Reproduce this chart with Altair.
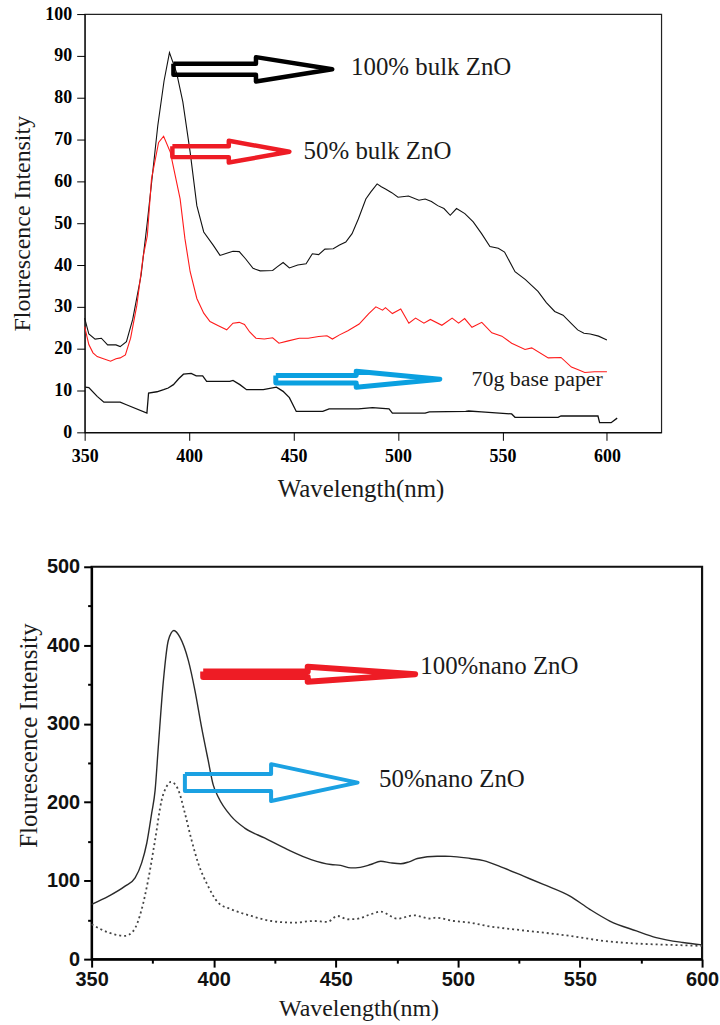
import altair as alt
import pandas as pd

# ---------------- top panel (bulk ZnO) ----------------
bulk100_nm = [350, 352, 355, 358, 361, 365, 367, 370, 373, 377, 380, 385, 388, 390.6, 394, 397, 400.5,
              403.7, 407, 411.6, 414.8, 418, 421, 424, 427, 430.6, 434, 440, 442, 445, 448, 452, 456, 459,
              462, 465, 469, 472, 475, 478, 481, 484.6, 487, 490, 492, 494, 497, 500, 505, 510, 513, 516,
              519, 522, 525, 528, 532, 536, 540, 544, 548, 551, 556, 561, 567, 571, 575, 579, 583, 586,
              589, 592, 596, 600]
bulk100_val = [27.3, 23.5, 22.3, 22.5, 20.9, 20.9, 20.5, 21.7, 27.0, 37.5, 50.3, 73.3, 84.0, 90.8, 86.0, 79.0,
               67.0, 54.2, 47.9, 44.7, 42.3, 42.8, 43.3, 43.2, 41.5, 39.2, 38.6, 38.7, 39.5, 40.6, 39.3, 40.0,
               40.3, 42.7, 42.5, 43.8, 43.9, 44.8, 45.5, 47.5, 51.0, 55.8, 57.5, 59.4, 58.7, 58.2, 57.3, 56.2,
               56.5, 55.5, 55.8, 55.2, 54.2, 53.5, 51.9, 53.5, 52.3, 50.3, 47.5, 44.4, 44.0, 43.1, 38.4, 36.5,
               33.7, 31.0, 28.9, 28.0, 26.0, 24.5, 23.7, 23.5, 23.0, 22.1]

bulk50_nm = [350, 352, 354, 356, 359, 362.4, 365, 367, 369.5, 372, 375, 378, 380, 382, 385.4, 387.8, 391,
             395.7, 398, 400.5, 403.7, 407, 410, 414, 418, 421, 424, 426.5, 429, 432, 436, 440, 443, 447,
             452.7, 457, 462, 466, 468.6, 472, 476, 481.4, 486, 489.4, 492.6, 494, 497.3, 501.3, 505.2,
             508.4, 512.4, 515.5, 521, 525.9, 529, 531.9, 535.4, 540.1, 544.9, 549.7, 554.4, 560.8, 564,
             571.9, 578, 583, 586, 589.4, 594, 600]
bulk50_val = [25.3, 21.0, 19.0, 18.1, 17.6, 17.0, 17.6, 17.8, 18.5, 22.5, 30.4, 42.0, 47.0, 60.6, 69.3, 70.8,
              67.0, 55.8, 46.3, 38.4, 32.0, 28.5, 26.5, 25.5, 24.5, 26.1, 26.3, 25.8, 24.0, 22.5, 22.3, 22.6,
              21.3, 21.8, 22.5, 22.5, 22.9, 23.1, 22.3, 23.3, 24.3, 25.9, 28.4, 30.0, 29.2, 29.8, 28.4, 29.5,
              26.1, 27.3, 26.1, 27.0, 25.6, 27.3, 26.1, 27.2, 25.1, 26.3, 23.8, 23.0, 21.3, 19.8, 20.2, 17.8,
              17.9, 15.6, 15.0, 14.3, 14.5, 14.5]

paper_nm = [350.3, 352, 356, 359.2, 367, 370, 379.8, 380.6, 384.6, 387.8, 390, 392.5, 395, 397.3, 401,
            403.4, 406.5, 408.4, 419.5, 421, 424.3, 427.5, 435.5, 441.8, 445, 448, 451.3, 464, 467, 481,
            487.8, 495.7, 497.3, 513, 515, 532.4, 533.8, 540, 554.4, 556, 576.6, 578, 595.7, 596.5, 602, 604.9]
paper_val = [10.8, 10.7, 8.6, 7.2, 7.2, 6.6, 4.6, 9.4, 9.7, 10.2, 10.6, 11.4, 12.8, 13.9, 14.1, 13.5, 13.5,
             12.2, 12.2, 12.4, 11.4, 10.2, 10.2, 10.8, 9.8, 8.3, 5.0, 5.0, 5.6, 5.6, 5.9, 5.6, 4.6, 4.6, 4.9,
             5.0, 5.1, 4.9, 4.4, 3.6, 3.6, 3.9, 3.9, 2.3, 2.3, 3.4]

top_xticks = [350, 400, 450, 500, 550, 600]
top_yticks = [0, 10, 20, 30, 40, 50, 60, 70, 80, 90, 100]

top_labels = ["100% bulk ZnO", "50% bulk ZnO", "70g base paper"]
top_label_nm = [477.5, 454.8, 535.2]
top_label_val = [87.3, 67.3, 12.7]
top_label_size = [25, 25, 22]

# arrows: tail, head base, tip (nm), level, body half-height, head half-height
top_arrows = [
    dict(tail=392.5, base=432.0, tip=468.5, y=86.8, body=1.3, head=2.9, color="#000000", w=4.5),
    dict(tail=392.0, base=419.0, tip=448.0, y=67.1, body=1.3, head=2.6, color="#ee1c25", w=4.5),
    dict(tail=441.5, base=480.0, tip=520.0, y=12.7, body=0.9, head=1.9, color="#0aa0e0", w=5),
]

# ---------------- bottom panel (nano ZnO) ----------------
nano100_nm = [350, 357, 363.7, 367.8, 370.5, 372.6, 374.6, 376, 377.3, 379.4, 381.4, 383.7, 386.2, 389.6,
              392.3, 395, 397.7, 399.8, 401.8, 407.2, 412.7, 420.8, 430.3, 439.9, 448, 452, 456.2, 460,
              464.3, 468.4, 472.5, 476.6, 480, 483.4, 491.5, 497, 505.1, 510.5, 518.7, 526.9, 535, 545.9,
              554, 562.2, 573.1, 581.2, 592.1, 600]
nano100_val = [69.8, 80.3, 93.0, 103.6, 122.7, 148.0, 186.0, 215.0, 270.0, 355.0, 406.0, 418.8, 410.0, 380.7,
               342.6, 296.0, 253.8, 222.0, 207.0, 181.9, 167.0, 154.4, 139.6, 126.9, 120.6, 119.5, 116.3, 117.0,
               120.6, 124.8, 122.7, 121.5, 124.0, 128.2, 131.1, 131.0, 128.2, 125.6, 116.3, 105.7, 95.2, 80.3,
               63.5, 48.6, 36.0, 27.5, 21.2, 18.2]

nano50_nm = [350, 357, 363.7, 367.1, 370.5, 373.2, 376, 378.7, 380.7, 382.5, 385.5, 388.2, 390.9, 393.6,
             397.7, 401.8, 407.2, 415.4, 423.5, 433.1, 440.9, 446.6, 450.7, 454.8, 458, 464.3, 468.4, 475.2,
             482, 488.8, 490.9, 498.3, 505.1, 511.9, 522.8, 535, 545.9, 559.5, 573.1, 586.7, 600]
nano50_val = [44.4, 33.8, 29.6, 36.0, 63.5, 101.5, 152.0, 203.0, 220.0, 226.0, 215.7, 186.0, 152.0, 122.7,
              93.0, 72.0, 63.5, 55.0, 48.6, 46.5, 48.6, 47.5, 55.0, 50.8, 51.0, 57.1, 60.5, 51.6, 55.8, 51.6,
              52.9, 48.6, 46.5, 42.3, 38.0, 33.8, 29.6, 23.3, 19.9, 18.2, 16.9]

bot_xticks = [350, 375, 400, 425, 450, 475, 500, 525, 550, 575, 600]
bot_yticks = [0, 50, 100, 150, 200, 250, 300, 350, 400, 450, 500]

bot_labels = ["100%nano ZnO", "50%nano ZnO"]
bot_label_nm = [484.6, 467.7]
bot_label_val = [374.0, 229.7]

bot_arrows = [
    dict(tail=395.7, base=438.5, tip=482.5, y=363.0, body=3.5, head=9.5, color="#ee1c25", w=6),
    dict(tail=388.2, base=423.5, tip=458.9, y=225.0, body=10.8, head=23.5, color="#1ba1e2", w=4),
]


def line_df(nm, val):
    return pd.DataFrame({"nm": nm, "val": val})


def arrow_df(a):
    xs = [a["tail"], a["base"], a["base"], a["tip"], a["base"], a["base"], a["tail"], a["tail"]]
    ys = [a["y"] + a["body"], a["y"] + a["body"], a["y"] + a["head"], a["y"],
          a["y"] - a["head"], a["y"] - a["body"], a["y"] - a["body"], a["y"] + a["body"]]
    return pd.DataFrame({"nm": xs, "val": ys, "i": list(range(len(xs)))})


SERIF = "Liberation Serif"
SANS = "Liberation Sans"

# ---------- top encodings ----------
X_TOP = alt.X("nm:Q", scale=alt.Scale(domain=[350, 626], nice=False, zero=False),
              axis=alt.Axis(values=top_xticks, title="Wavelength(nm)", grid=False, tickSize=8,
                            tickColor="black", domainColor="black", labelFont=SERIF,
                            labelFontWeight="bold", labelFontSize=18, labelColor="black",
                            labelPadding=7, minExtent=30, maxExtent=30, titleFont=SERIF,
                            titleFontSize=25, titleFontWeight="normal", titleColor="#1a1a1a",
                            titlePadding=14, titleX=277, labelFlush=False))
Y_TOP = alt.Y("val:Q", scale=alt.Scale(domain=[0, 100], nice=False, zero=False),
              axis=alt.Axis(values=top_yticks, title="Flourescence Intensity", grid=False, tickSize=8,
                            tickColor="black", domainColor="black", labelFont=SERIF,
                            labelFontWeight="bold", labelFontSize=18, labelColor="black",
                            labelPadding=5, minExtent=44, maxExtent=44, titleFont=SERIF,
                            titleFontSize=24, titleFontWeight="normal", titleColor="#1a1a1a",
                            titlePadding=6, labelFlush=False))

top_layers = [
    alt.Chart(line_df(bulk100_nm, bulk100_val)).mark_line(color="#111111", strokeWidth=1.1).encode(x=X_TOP, y=Y_TOP),
    alt.Chart(line_df(bulk50_nm, bulk50_val)).mark_line(color="#ff1a1a", strokeWidth=1.1).encode(x=X_TOP, y=Y_TOP),
    alt.Chart(line_df(paper_nm, paper_val)).mark_line(color="#111111", strokeWidth=1.3).encode(x=X_TOP, y=Y_TOP),
]
for a in top_arrows:
    top_layers.append(
        alt.Chart(arrow_df(a)).mark_line(color=a["color"], strokeWidth=a["w"], strokeJoin="round")
        .encode(x=X_TOP, y=Y_TOP, order="i:Q"))
for t, n, v, s in zip(top_labels, top_label_nm, top_label_val, top_label_size):
    top_layers.append(
        alt.Chart(pd.DataFrame({"nm": [n], "val": [v], "t": [t]}))
        .mark_text(align="left", baseline="middle", font=SERIF, fontSize=s, color="#1a1a1a")
        .encode(x=X_TOP, y=Y_TOP, text="t:N"))

top = alt.layer(*top_layers).properties(
    width=579, height=420,
    view=alt.ViewBackground(stroke="#222222", strokeWidth=1.2))

# ---------- bottom encodings ----------
X_BOT = alt.X("nm:Q", scale=alt.Scale(domain=[350, 600], nice=False, zero=False),
              axis=alt.Axis(values=bot_xticks, title="Wavelength(nm)", grid=False,
                            tickSize={"condition": {"test": "datum.value % 50 === 0", "value": 8}, "value": 4},
                            tickWidth=2, domainWidth=2,
                            labelExpr="datum.value % 50 === 0 ? datum.label : ''",
                            tickColor="black", domainColor="black", labelFont=SANS,
                            labelFontWeight="bold", labelFontSize=20, labelColor="#111111",
                            labelPadding=2, minExtent=30, maxExtent=30, titleFont=SERIF,
                            titleFontSize=24, titleFontWeight="normal", titleColor="#1a1a1a",
                            titlePadding=8, titleX=268, labelFlush=False))
Y_BOT = alt.Y("val:Q", scale=alt.Scale(domain=[0, 500], nice=False, zero=False),
              axis=alt.Axis(values=bot_yticks, title="Flourescence Intensity", grid=False,
                            tickSize={"condition": {"test": "datum.value % 100 === 0", "value": 8}, "value": 4},
                            tickWidth=2, domainWidth=2,
                            labelExpr="datum.value % 100 === 0 ? datum.label : ''",
                            tickColor="black", domainColor="black", labelFont=SANS,
                            labelFontWeight="bold", labelFontSize=20, labelColor="#111111",
                            labelPadding=4, minExtent=48, maxExtent=48, titleFont=SERIF,
                            titleFontSize=25, titleFontWeight="normal", titleColor="#1a1a1a",
                            titlePadding=2, titleY=169, labelFlush=False))

bot_layers = [
    alt.Chart(line_df(nano100_nm, nano100_val)).mark_line(color="#2a2a2a", strokeWidth=1.4, interpolate="monotone").encode(x=X_BOT, y=Y_BOT),
    alt.Chart(line_df(nano50_nm, nano50_val)).mark_line(color="#444444", strokeWidth=1.8, strokeDash=[2, 3], interpolate="monotone").encode(x=X_BOT, y=Y_BOT),
]
for a in bot_arrows:
    bot_layers.append(
        alt.Chart(arrow_df(a)).mark_line(color=a["color"], strokeWidth=a["w"], strokeJoin="round")
        .encode(x=X_BOT, y=Y_BOT, order="i:Q"))
for t, n, v in zip(bot_labels, bot_label_nm, bot_label_val):
    bot_layers.append(
        alt.Chart(pd.DataFrame({"nm": [n], "val": [v], "t": [t]}))
        .mark_text(align="left", baseline="middle", font=SERIF, fontSize=25, color="#1a1a1a")
        .encode(x=X_BOT, y=Y_BOT, text="t:N"))

bottom = alt.layer(*bot_layers).properties(
    width=613, height=394,
    view=alt.ViewBackground(stroke="#111111", strokeWidth=2.2))


def spacer():
    # invisible, zero-size placeholder used only to set each panel's left offset
    return alt.Chart(pd.DataFrame({"a": [0]})).mark_point(size=0, opacity=0).properties(
        width=1, height=10, view=alt.ViewBackground(strokeOpacity=0))


chart = alt.vconcat(
    alt.hconcat(spacer(), top, spacing=4),
    alt.hconcat(spacer(), bottom, spacing=9),
    spacing=53,
).properties(
    padding={"left": 5, "top": 2, "right": 0, "bottom": 0},
    background="white",
).configure_view(stroke="#222222")

chart.save("out.html", embed_options={"renderer": "svg", "actions": False})
